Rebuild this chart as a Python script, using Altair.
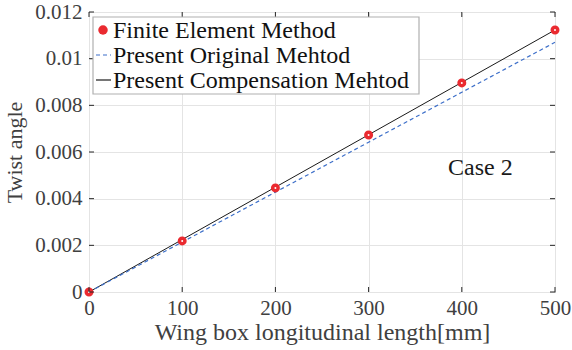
import altair as alt
import pandas as pd

x_vals = [0, 100, 200, 300, 400, 500]
fem = [0, 0.00219, 0.00446, 0.00673, 0.00896, 0.01123]
original = [0, 0.00214, 0.00428, 0.00642, 0.00856, 0.0107]
compensation = [0, 0.002246, 0.004492, 0.006738, 0.008984, 0.01123]
x_ticks = [0, 100, 200, 300, 400, 500]
y_ticks = [0, 0.002, 0.004, 0.006, 0.008, 0.01, 0.012]
legend_labels = ["Finite Element Method", "Present Original Mehtod", "Present Compensation Mehtod"]
annotation = "Case 2"

df = pd.DataFrame({"x": x_vals, "fem": fem, "orig": original, "comp": compensation})
xt = pd.DataFrame({"x": x_ticks})
yt = pd.DataFrame({"y": y_ticks})

FONT = "Liberation Serif"
W, H = 466, 280

xs = alt.Scale(domain=[0, 500], nice=False)
ys = alt.Scale(domain=[0, 0.012], nice=False)

xaxis = alt.Axis(values=x_ticks, title="Wing box longitudinal length[mm]", grid=True,
                 gridColor="#e4e4e4", domain=False, ticks=False, labelFont=FONT,
                 labelFontSize=21, labelColor="#404040", labelPadding=5,
                 titleFont=FONT, titleFontSize=24, titleFontWeight="normal",
                 titleColor="#404040", titlePadding=2, labelFlush=False)
yaxis = alt.Axis(values=y_ticks, title="Twist angle", grid=True, format="~g",
                 gridColor="#e4e4e4", domain=False, ticks=False, labelFont=FONT,
                 labelFontSize=21, labelColor="#404040", labelPadding=7,
                 titleFont=FONT, titleFontSize=22, titleFontWeight="normal",
                 titleColor="#404040", titlePadding=8, labelFlush=False)

base = alt.Chart(df)

comp_line = base.mark_line(color="#1a1a1a", strokeWidth=1).encode(
    x=alt.X("x:Q", scale=xs, axis=xaxis), y=alt.Y("comp:Q", scale=ys, axis=yaxis))
orig_line = base.mark_line(color="#3d6fc9", strokeWidth=1.2, strokeDash=[4, 3]).encode(
    x=alt.X("x:Q", scale=xs), y=alt.Y("orig:Q", scale=ys))
pts = base.mark_point(shape="circle", size=30, filled=False, fill="white", fillOpacity=1,
                      stroke="#ea2a30", strokeWidth=3.5, opacity=1).encode(
    x=alt.X("x:Q", scale=xs), y=alt.Y("fem:Q", scale=ys))

# inward ticks
bt = alt.Chart(xt).mark_rule(color="#262626").encode(
    x=alt.X("x:Q", scale=xs), y=alt.value(H), y2=alt.value(H - 5))
tt = alt.Chart(xt).mark_rule(color="#262626").encode(
    x=alt.X("x:Q", scale=xs), y=alt.value(0), y2=alt.value(5))
lt = alt.Chart(yt).mark_rule(color="#262626").encode(
    y=alt.Y("y:Q", scale=ys), x=alt.value(0), x2=alt.value(5))
rt = alt.Chart(yt).mark_rule(color="#262626").encode(
    y=alt.Y("y:Q", scale=ys), x=alt.value(W), x2=alt.value(W - 5))

ann = alt.Chart(pd.DataFrame({"x": [420], "y": [0.0053], "t": [annotation]})).mark_text(
    font=FONT, fontSize=24, color="#1a1a1a").encode(
    x=alt.X("x:Q", scale=xs), y=alt.Y("y:Q", scale=ys), text="t:N")

one = alt.Chart(pd.DataFrame({"a": [0]}))
leg_box = one.mark_rect(fill="white", stroke="#b0b0b0", strokeWidth=1.2).encode(
    x=alt.value(4), x2=alt.value(330), y=alt.value(5), y2=alt.value(82))
leg_pt = one.mark_point(shape="circle", size=90, filled=True, color="#ea2a30", opacity=1).encode(
    x=alt.value(14), y=alt.value(18))
leg_dash = one.mark_rule(color="#3d6fc9", strokeWidth=1.2, strokeDash=[4, 3]).encode(
    x=alt.value(7), x2=alt.value(22), y=alt.value(43))
leg_solid = one.mark_rule(color="#1a1a1a", strokeWidth=1.2).encode(
    x=alt.value(7), x2=alt.value(22), y=alt.value(68))
leg_texts = []
for i, lab in enumerate(legend_labels):
    leg_texts.append(one.mark_text(font=FONT, fontSize=24, color="#111111", align="left",
                                   baseline="middle", text=lab).encode(
        x=alt.value(24), y=alt.value(19 + 25 * i)))

chart = alt.layer(comp_line, orig_line, pts, bt, tt, lt, rt, ann,
                  leg_box, leg_pt, leg_dash, leg_solid, *leg_texts).properties(
    width=W, height=H,
    autosize=alt.AutoSizeParams(type="none"),
    padding={"left": 89, "top": 12, "right": 17, "bottom": 58},
).configure(font=FONT).configure_axis(labelFont=FONT, titleFont=FONT).configure_text(
    font=FONT).configure_view(stroke="#262626", strokeWidth=1)

chart.save("out.html", embed_options={"renderer": "svg", "actions": False})
